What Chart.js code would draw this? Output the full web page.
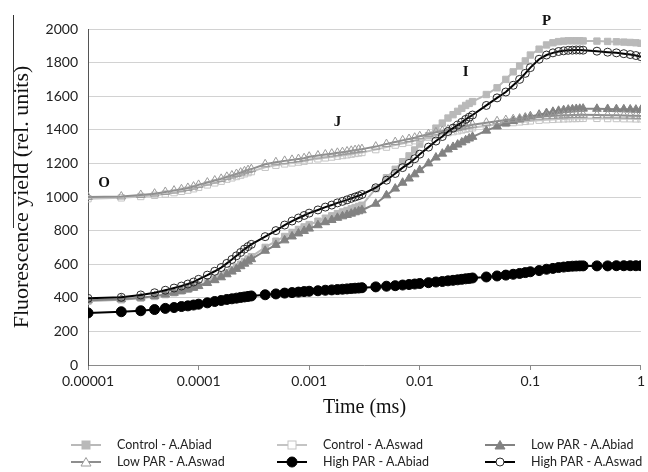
<!DOCTYPE html>
<html>
<head>
<meta charset="utf-8">
<script src="https://cdn.jsdelivr.net/npm/chart.js@4.4.0/dist/chart.umd.min.js"></script>
<style>
  html, body { margin: 0; padding: 0; background: #fff; }
  #wrap { position: relative; width: 648px; height: 472px; overflow: hidden; }
  #c { position: absolute; left: 0; top: 0; }
  .leg { position: absolute; font-family: Lato, "Open Sans", sans-serif; font-size: 12.5px; color: #222; white-space: nowrap; display: flex; align-items: center; }
  .leg svg { margin-right: 16px; }
</style>
</head>
<body>
<div id="wrap">
  <canvas id="c" width="648" height="472"></canvas>
  <div id="legend"></div>
</div>
<script>
// ---- data (time in ms, fluorescence in rel. units) ----
const times = [0.00001,0.00002,0.00003,0.00004,0.00005,0.00006,0.00007,0.00008,0.00009,0.0001,
  0.00012,0.00014,0.00016,0.00018,0.0002,0.00022,0.00024,0.00026,0.00028,0.0003,
  0.0004,0.0005,0.0006,0.0007,0.0008,0.0009,0.001,0.0012,0.0014,0.0016,0.0018,0.002,0.0022,0.0024,0.0026,0.0028,0.003,
  0.004,0.005,0.006,0.007,0.008,0.009,0.01,0.012,0.014,0.016,0.018,0.02,0.022,0.024,0.026,0.028,0.03,
  0.04,0.05,0.06,0.07,0.08,0.09,0.1,0.12,0.14,0.16,0.18,0.2,0.22,0.24,0.26,0.28,0.3,
  0.4,0.5,0.6,0.7,0.8,0.9,1];

const controlAbiad = [380,388,398,408,419,430,441,452,463,474,494,512,530,549,566,583,600,616,631,645,
  700,737,765,789,807,822,836,856,874,888,901,911,920,929,937,944,951,
  1050,1115,1165,1210,1245,1280,1315,1365,1410,1440,1470,1490,1510,1528,1545,1557,1568,
  1610,1650,1700,1745,1780,1810,1845,1880,1905,1918,1925,1928,1930,1930,1930,1930,1929,
  1928,1926,1924,1922,1920,1918,1915];

const controlAswad = [990,995,1003,1010,1018,1026,1034,1041,1049,1058,1072,1084,1094,1106,1114,1122,1130,1138,1145,1151,
  1177,1189,1197,1203,1208,1213,1220,1227,1233,1238,1243,1247,1251,1255,1259,1262,1265,
  1282,1297,1309,1319,1327,1335,1344,1356,1367,1375,1383,1389,1394,1399,1404,1408,1412,
  1424,1432,1438,1443,1447,1450,1453,1457,1460,1462,1464,1465,1466,1467,1467,1468,1468,
  1468,1467,1467,1466,1466,1465,1465];

const lowParAbiad = [385,392,401,410,420,430,440,450,460,470,488,505,522,540,556,572,588,603,617,630,
  680,715,742,765,783,798,812,832,850,863,876,885,893,901,909,915,921,
  960,1010,1050,1085,1110,1135,1160,1200,1235,1258,1283,1298,1312,1325,1338,1348,1358,
  1395,1420,1438,1452,1462,1472,1480,1490,1500,1507,1513,1517,1520,1522,1524,1525,1526,
  1525,1524,1523,1522,1521,1520,1519];

const lowParAswad = [1000,1003,1012,1020,1030,1038,1046,1054,1062,1072,1086,1098,1108,1120,1128,1137,1145,1153,1160,1166,
  1195,1207,1215,1221,1226,1231,1240,1247,1253,1258,1263,1267,1271,1275,1279,1282,1285,
  1300,1315,1327,1337,1345,1353,1362,1374,1385,1393,1401,1407,1412,1417,1422,1426,1430,
  1442,1451,1458,1463,1467,1471,1474,1478,1481,1483,1485,1486,1487,1488,1488,1489,1489,
  1488,1487,1486,1485,1484,1483,1482];

const highParAbiad = [310,317,323,330,337,342,348,352,357,362,370,378,384,390,394,398,402,405,408,411,
  418,423,428,431,434,437,439,442,445,447,449,451,453,455,457,458,460,
  465,469,472,476,479,482,485,490,494,497,501,504,507,510,513,515,518,
  524,530,535,540,545,550,555,562,570,575,580,583,586,588,589,590,590,
  590,590,591,591,591,591,591];

const highParAswad = [397,403,417,430,445,458,470,482,494,510,535,558,580,605,628,650,670,690,705,718,
  764,800,833,857,875,890,904,923,940,952,965,974,983,992,1000,1007,1015,
  1055,1100,1140,1175,1200,1228,1255,1297,1333,1360,1390,1410,1428,1445,1462,1475,1488,
  1545,1590,1625,1665,1700,1736,1770,1820,1845,1858,1866,1870,1873,1874,1875,1875,1874,
  1868,1862,1858,1853,1848,1842,1835];

const seriesNames = ["Control - A.Abiad","Control - A.Aswad","Low PAR - A.Abiad","Low PAR - A.Aswad","High PAR - A.Abiad","High PAR - A.Aswad"];

const xTicks = [0.00001,0.0001,0.001,0.01,0.1,1];
const xTickLabels = ["0.00001","0.0001","0.001","0.01","0.1","1"];
const yMin = 0, yMax = 2000, yStep = 200;

const phaseLabels = ["O","J","I","P"];
const phaseTimes = [0.000014,0.0018,0.026,0.14];
const phaseValues = [1085,1445,1745,2045];

// ---- styles ----
const styles = [
  {color:"#b9b9b9", point:"rect",     fill:"#b9b9b9", radius:4.5, pw:1, lw:2},
  {color:"#c4c4c4", point:"rect",     fill:"rgba(255,255,255,0)", radius:4.5, pw:1, lw:2},
  {color:"#828282", point:"triangle", fill:"#828282", radius:5, pw:1, lw:2},
  {color:"#8e8e8e", point:"triangle", fill:"rgba(255,255,255,0)", radius:5, pw:1, lw:2, pcolor:"#9a9a9a"},
  {color:"#000000", point:"circle",   fill:"#000000", radius:5, pw:1, lw:2},
  {color:"#000000", point:"circle",   fill:"rgba(255,255,255,0)", radius:4, pw:1, lw:2, pcolor:"#2a2a2a"}
];
const seriesData = [controlAbiad, controlAswad, lowParAbiad, lowParAswad, highParAbiad, highParAswad];

const datasets = seriesData.map((vals, i) => {
  const s = styles[i];
  return {
    label: seriesNames[i],
    data: times.map((t, k) => ({x: t, y: vals[k]})),
    borderColor: s.color,
    borderWidth: s.lw,
    backgroundColor: s.fill,
    pointStyle: s.point,
    pointRadius: s.radius,
    pointBackgroundColor: s.fill,
    pointBorderColor: s.pcolor || s.color,
    pointBorderWidth: s.pw,
    tension: 0,
    fill: false,
    order: 6 - i
  };
});

const serif = "'Liberation Serif', 'Times New Roman', serif";
const sans = "Lato, 'Open Sans', sans-serif";

const phasePlugin = {
  id: "phases",
  afterDatasetsDraw(chart) {
    const {ctx, scales} = chart;
    ctx.save();
    ctx.font = "bold 15px " + serif;
    ctx.fillStyle = "#111";
    ctx.textAlign = "center";
    ctx.textBaseline = "middle";
    phaseLabels.forEach((lab, i) => {
      ctx.fillText(lab, scales.x.getPixelForValue(phaseTimes[i]), scales.y.getPixelForValue(phaseValues[i]));
    });
    ctx.restore();
  },
  afterDraw(chart) {
    const ctx = chart.ctx;
    ctx.save();
    ctx.strokeStyle = "#333";
    ctx.lineWidth = 1;
    ctx.beginPath();
    ctx.moveTo(13.5, 15);
    ctx.lineTo(13.5, 228);
    ctx.stroke();
    ctx.restore();
  }
};

new Chart(document.getElementById("c"), {
  type: "line",
  data: { datasets },
  options: {
    responsive: false,
    animation: false,
    devicePixelRatio: 1,
    layout: { padding: { top: 29, right: 6, left: 0, bottom: 48 } },
    plugins: { legend: { display: false }, tooltip: { enabled: false } },
    scales: {
      x: {
        type: "logarithmic",
        min: xTicks[0], max: xTicks[xTicks.length - 1],
        afterBuildTicks(scale) { scale.ticks = xTicks.map(v => ({value: v})); },
        afterFit(scale) { scale.height = 59; },
        ticks: {
          autoSkip: false, maxRotation: 0, padding: 3,
          font: { family: sans, size: 14 }, color: "#222",
          callback(value) { const k = xTicks.indexOf(value); return k >= 0 ? xTickLabels[k] : ""; }
        },
        grid: { drawOnChartArea: false, drawTicks: true, tickLength: 5, color: "#8a8a8a" },
        border: { color: "#8a8a8a", width: 1 },
        title: { display: true, text: "Time (ms)", font: { family: serif, size: 20 }, color: "#111", padding: { top: 0, bottom: 4 } }
      },
      y: {
        type: "linear",
        min: yMin, max: yMax,
        afterFit(scale) { scale.width = 88; },
        ticks: { stepSize: yStep, padding: 10, font: { family: sans, size: 14 }, color: "#222",
          callback(value) { return String(value); } },
        grid: { color: "#d2d2d2", lineWidth: 1, drawTicks: false },
        border: { color: "#555", width: 1 },
        title: { display: true, text: "Fluorescence yield (rel. units)", font: { family: serif, size: 22 }, color: "#111", padding: { top: 9, bottom: 0 } }
      }
    }
  },
  plugins: [phasePlugin]
});

// ---- HTML legend ----
const legendCols = [71, 277, 485];
const legendRows = [444, 461];
const legendEl = document.getElementById("legend");
seriesNames.forEach((name, i) => {
  const s = styles[i];
  const col = i % 3, row = Math.floor(i / 3);
  const pc = s.pcolor || s.color;
  const fill = s.fill.indexOf("rgba") === 0 ? "#fff" : s.fill;
  let marker = "";
  if (s.point === "rect") marker = `<rect x="11" y="2" width="8" height="8" fill="${fill}" stroke="${pc}" stroke-width="1"/>`;
  else if (s.point === "triangle") marker = `<polygon points="15,1.5 20,10 10,10" fill="${fill}" stroke="${pc}" stroke-width="1"/>`;
  else marker = `<circle cx="15" cy="6" r="${s.radius}" fill="${fill}" stroke="${pc}" stroke-width="1"/>`;
  const div = document.createElement("div");
  div.className = "leg";
  div.style.left = legendCols[col] + "px";
  div.style.top = (legendRows[row] - 7) + "px";
  div.innerHTML = `<svg width="30" height="12"><line x1="0" y1="6" x2="30" y2="6" stroke="${s.color}" stroke-width="2"/>${marker}</svg><span>${name}</span>`;
  legendEl.appendChild(div);
});
</script>
</body>
</html>
